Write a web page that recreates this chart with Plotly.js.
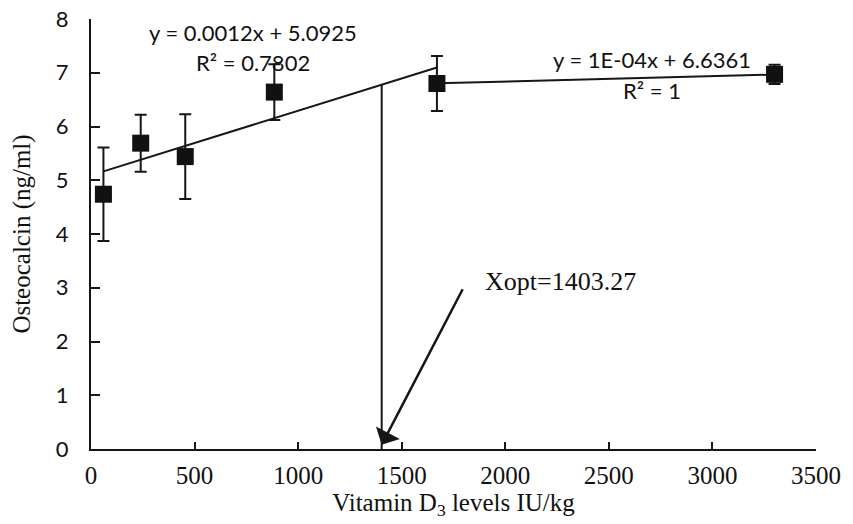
<!DOCTYPE html>
<html>
<head>
<meta charset="utf-8">
<script src="https://cdn.plot.ly/plotly-3.0.1.min.js"></script>
<style>html,body{margin:0;padding:0;background:#fff;}#chart{width:853px;height:524px;}</style>
</head>
<body>
<div id="chart"></div>
<script>
// Data
const doses = [60, 240, 455, 885, 1670, 3300];          // Vitamin D3 levels IU/kg
const osteocalcin = [4.74, 5.69, 5.44, 6.64, 6.80, 6.97]; // ng/ml
const errors = [0.87, 0.53, 0.79, 0.52, 0.51, 0.18];

// Broken-line fit parameters
const fit1 = {slope: 0.0012, intercept: 5.0925, r2: '0.7802', from: 0, to: 4};
const fit2 = {slope: 0.0001, intercept: 6.6361, r2: '1', from: 4, to: 5};
const xopt = 1403.27;

const xTicks = [0, 500, 1000, 1500, 2000, 2500, 3000, 3500];
const yTicks = [0, 1, 2, 3, 4, 5, 6, 7, 8];

const sans = 'Lato, Open Sans, sans-serif';
const serif = 'Liberation Serif, Times New Roman, serif';
const ink = '#161616';

function fitLine(f) {
  const xs = [doses[f.from], doses[f.to]];
  return {x: xs, y: xs.map(v => f.slope * v + f.intercept)};
}
const l1 = fitLine(fit1), l2 = fitLine(fit2);
const yAtOpt = fit1.slope * xopt + fit1.intercept;

const traces = [
  {x: l1.x, y: l1.y, mode: 'lines', line: {color: ink, width: 2}, hoverinfo: 'skip'},
  {x: l2.x, y: l2.y, mode: 'lines', line: {color: ink, width: 2}, hoverinfo: 'skip'},
  {x: [xopt, xopt], y: [0, yAtOpt], mode: 'lines', line: {color: ink, width: 2}, hoverinfo: 'skip'},
  {x: doses, y: osteocalcin, mode: 'markers', type: 'scatter',
   marker: {symbol: 'square', size: 17, color: '#111'},
   error_y: {type: 'data', array: errors, visible: true, color: ink, thickness: 2, width: 6}}
];

const layout = {
  width: 853, height: 524,
  margin: {l: 91, r: 37, t: 19, b: 75},
  paper_bgcolor: '#fff', plot_bgcolor: '#fff',
  showlegend: false,
  xaxis: {
    range: [0, 3500], tickvals: xTicks, ticktext: xTicks.map(String),
    showgrid: false, zeroline: false, showline: true, linecolor: ink, linewidth: 2,
    ticks: 'inside', ticklen: 7, tickwidth: 2, tickcolor: ink,
    tickfont: {family: serif, size: 25, color: '#111'}, ticklabelstandoff: 3,
    title: {text: 'Vitamin D<sub>3</sub> levels IU/kg', font: {family: serif, size: 25, color: '#111'}, standoff: 2}
  },
  yaxis: {
    range: [0, 8], tickvals: yTicks, ticktext: yTicks.map(String),
    showgrid: false, zeroline: false, showline: true, linecolor: ink, linewidth: 2,
    ticks: 'inside', ticklen: 9, tickwidth: 2, tickcolor: ink,
    tickfont: {family: sans, size: 22, color: '#111'}, ticklabelstandoff: 16,
    title: {text: 'Osteocalcin (ng/ml)', font: {family: serif, size: 25, color: '#111'}, standoff: 18}
  },
  annotations: [
    {x: 782, y: 7.745, xref: 'x', yref: 'y', showarrow: false,
     text: 'y = ' + fit1.slope.toFixed(4) + 'x + ' + fit1.intercept.toFixed(4),
     font: {family: sans, size: 22, color: '#111'}},
    {x: 782, y: 7.19, xref: 'x', yref: 'y', showarrow: false,
     text: 'R² = ' + fit1.r2, font: {family: sans, size: 22, color: '#111'}},
    {x: 2706, y: 7.243, xref: 'x', yref: 'y', showarrow: false,
     text: 'y = 1E-04x + ' + fit2.intercept.toFixed(4),
     font: {family: sans, size: 22, color: '#111'}},
    {x: 2706, y: 6.672, xref: 'x', yref: 'y', showarrow: false,
     text: 'R² = ' + fit2.r2, font: {family: sans, size: 22, color: '#111'}},
    {x: 1893, y: 3.12, xref: 'x', yref: 'y', xanchor: 'left', showarrow: false,
     text: 'Xopt=' + xopt, font: {family: serif, size: 26, color: '#111'}},
    {x: xopt, y: 0.08, xref: 'x', yref: 'y', ax: 1798, ay: 3.0, axref: 'x', ayref: 'y',
     text: '', showarrow: true, arrowhead: 1, arrowsize: 1.8, arrowwidth: 2.5, arrowcolor: ink}
  ]
};

Plotly.newPlot('chart', traces, layout, {staticPlot: true, displayModeBar: false});
</script>
</body>
</html>
